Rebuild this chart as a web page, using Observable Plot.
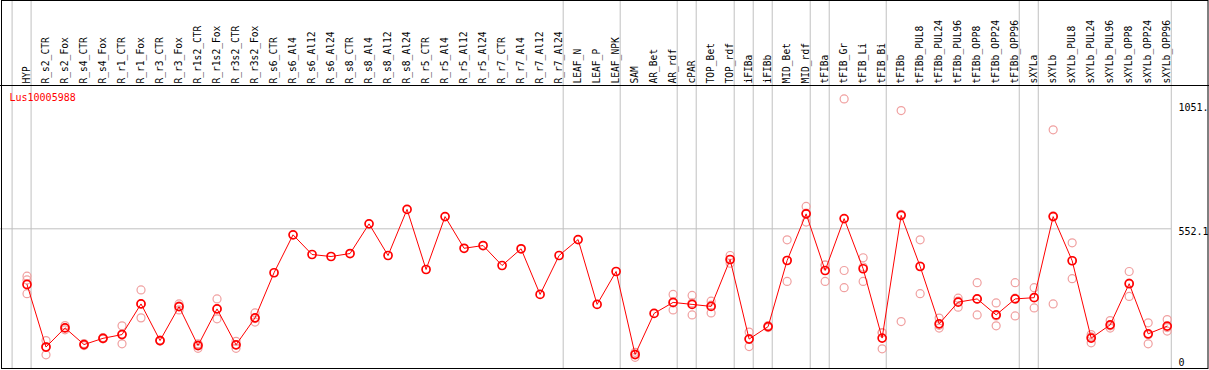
<!DOCTYPE html>
<html><head><meta charset="utf-8">
<script src="https://cdn.jsdelivr.net/npm/d3@7"></script>
<script src="https://cdn.jsdelivr.net/npm/@observablehq/plot@0.6"></script>
<style>body{margin:0;background:#fff}</style>
</head><body><div id="chart"></div>
<script>
const geneId = "Lus10005988";
const labels = ["HYP","R_s2_CTR","R_s2_Fox","R_s4_CTR","R_s4_Fox","R_r1_CTR","R_r1_Fox","R_r3_CTR","R_r3_Fox","R_r1s2_CTR","R_r1s2_Fox","R_r3s2_CTR","R_r3s2_Fox","R_s6_CTR","R_s6_Al4","R_s6_Al12","R_s6_Al24","R_s8_CTR","R_s8_Al4","R_s8_Al12","R_s8_Al24","R_r5_CTR","R_r5_Al4","R_r5_Al12","R_r5_Al24","R_r7_CTR","R_r7_Al4","R_r7_Al12","R_r7_Al24","LEAF_N","LEAF_P","LEAF_NPK","SAM","AR_Bet","AR_rdf","cPAR","TOP_Bet","TOP_rdf","iFIBa","iFIBb","MID_Bet","MID_rdf","tFIBa","tFIB_Gr","tFIB_Li","tFIB_Bi","tFIBb","tFIBb_PUL8","tFIBb_PUL24","tFIBb_PUL96","tFIBb_OPP8","tFIBb_OPP24","tFIBb_OPP96","sXYLa","sXYLb","sXYLb_PUL8","sXYLb_PUL24","sXYLb_PUL96","sXYLb_OPP8","sXYLb_OPP24","sXYLb_OPP96"];
const means = [329,78,155,88,113,128,251,104,240,84,231,87,195,376,528,449,441,453,572,445,630,389,601,474,485,405,472,289,445,509,249,381,48,213,257,249,241,429,110,160,425,612,385,593,392,114,606,401,171,258,271,207,271,276,601,424,114,167,332,131,162];
const repA = [362,104,164,92,116,163,307,106,251,91,271,101,215,null,null,null,null,null,null,null,null,null,null,null,null,null,null,null,null,null,null,null,57,null,289,285,262,445,138,164,508,642,408,1073,436,135,1026,508,194,274,336,255,336,316,949,496,128,184,381,175,188];
const repB = [347,47,147,84,111,91,195,102,227,73,191,73,178,null,null,null,null,null,null,null,null,null,null,null,null,null,null,null,null,null,null,null,37,null,227,207,215,414,80,156,341,579,341,385,341,71,180,292,154,238,207,163,203,235,251,352,95,154,281,91,142];
const repC = [292,80,155,88,113,130,251,104,242,88,231,87,192,null,null,null,null,null,null,null,null,null,null,null,null,null,null,null,null,null,null,null,50,null,255,255,246,428,112,160,426,615,406,316,399,136,610,403,165,262,270,203,274,277,604,424,119,163,334,127,156];
const groupEnds = [-1,0,28,31,34,35,37,38,39,41,42,45,52,53,60];
const yTicks = [0, 552.1, 1051];
const yTickLabels = ["0", "552.1", "1051."];

const meanRows = labels.map((label, i) => ({i, label, v: means[i]}));
const repRows = [repA, repB, repC].flatMap(rep => rep.map((v, i) => ({i, v})).filter(d => d.v != null));
const tickRows = yTicks.map((v, k) => ({v, t: yTickLabels[k]}));

const plot = Plot.plot({
  width: 1209, height: 370,
  marginTop: 86, marginBottom: 1, marginLeft: 0, marginRight: 38,
  x: {type: "linear", domain: [-1.3945, 60.227], axis: null},
  y: {domain: [-12, 1122.7], axis: null},
  style: {fontFamily: "DejaVu Sans Mono", fontSize: "10px", background: "white", overflow: "visible"},
  marks: [
    Plot.ruleY([552.1], {stroke: "#c0c0c0", strokeWidth: 1}),
    Plot.ruleX(groupEnds, {x: d => d + 0.215, stroke: "#c0c0c0", strokeWidth: 1, insetTop: -86}),
    Plot.text(labels, {x: (d, i) => i, text: d => d, frameAnchor: "top", lineAnchor: "middle", rotate: -90, textAnchor: "start", dy: -3, fontSize: 9.6, fill: "black"}),
    Plot.dot(repRows, {x: "i", y: "v", r: 4, stroke: "#f0a0a0", strokeWidth: 1.2, fill: "none"}),
    Plot.line(meanRows, {x: "i", y: "v", stroke: "#ff0000", strokeWidth: 1}),
    Plot.dot(meanRows, {x: "i", y: "v", r: 4, stroke: "#ff0000", strokeWidth: 1.7, fill: "none"}),
    Plot.text([geneId], {text: d => d, frameAnchor: "top-left", lineAnchor: "middle", dx: 9, dy: 11, fill: "#ff0000", textAnchor: "start"}),
    Plot.text(tickRows.filter(d => d.v > 0), {y: "v", text: "t", frameAnchor: "right", lineAnchor: "middle", dx: 7, dy: 3, textAnchor: "start", fill: "black"}),
    Plot.text(tickRows.filter(d => d.v === 0), {y: "v", text: "t", frameAnchor: "right", lineAnchor: "middle", dx: 7, dy: -4, textAnchor: "start", fill: "black"})
  ]
});
const svg = d3.select(plot);
svg.append("rect").attr("x", 1.5).attr("y", 0.5).attr("width", 1206.5).attr("height", 368)
  .attr("fill", "none").attr("stroke", "black");
svg.append("line").attr("x1", 0).attr("x2", 1209).attr("y1", 85.5).attr("y2", 85.5).attr("stroke", "black");
document.getElementById("chart").appendChild(plot);
</script>
</body></html>
